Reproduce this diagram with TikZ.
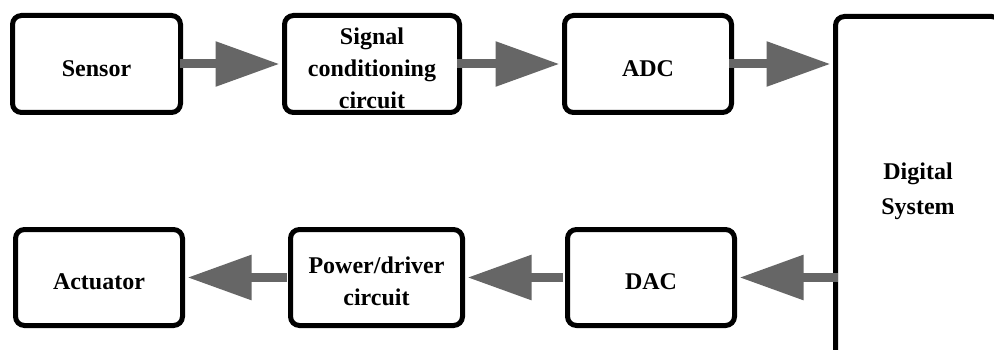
\documentclass[tikz,border=0pt]{standalone}
\usepackage{fontspec}
\setmainfont{Liberation Serif}
\usetikzlibrary{arrows.meta}
\definecolor{flowgray}{RGB}{102,102,102}
% a tall strut in the first line sets the text a little below the middle
\newcommand{\lowstrut}{\rule{0pt}{25pt}}
\tikzset{
  block/.style={draw=black, line width=5pt, rounded corners=9pt, fill=white,
    align=center, inner sep=0pt,
    font=\fontsize{24}{32}\selectfont\bfseries},
  flow/.style={draw=flowgray, line width=9pt,
    -{Triangle[length=64pt, width=43pt]}, flowgray}
}
\begin{document}
\begin{tikzpicture}[x=1pt, y=-1pt]
  \useasboundingbox (0,0) rectangle (994,350);
  % upper chain
  \node[block, minimum width=168pt, minimum height=97pt] (sensor) at (96.5,64) {\lowstrut Sensor};
  \node[block, minimum width=175pt, minimum height=97pt] (cond) at (372,64) {\lowstrut Signal\\conditioning\\circuit};
  \node[block, minimum width=167pt, minimum height=97pt] (adc) at (648,64) {\lowstrut ADC};
  % digital system, running past the right and bottom edges
  \node[block, minimum width=165pt, minimum height=349pt,
        font=\fontsize{24}{35}\selectfont\bfseries] (dig) at (918,191) {Digital\\System};
  % lower chain
  \node[block, minimum width=167pt, minimum height=96pt] (act) at (99,277.5) {\lowstrut Actuator};
  \node[block, minimum width=172pt, minimum height=96pt] (pwr) at (376.5,277.5) {\lowstrut Power/driver\\circuit};
  \node[block, minimum width=167pt, minimum height=96pt] (dac) at (651,277.5) {\lowstrut DAC};
  % signal flow
  \draw[flow] ([xshift=-3.5pt]sensor.east) -- ([xshift=-2.5pt]cond.west);
  \draw[flow] ([xshift=-5pt]cond.east) -- ([xshift=-2.5pt]adc.west);
  \draw[flow] ([xshift=-5pt]adc.east) -- ([xshift=-2.5pt]dig.west |- adc.west);
  \draw[flow] ([xshift=4.5pt]dig.west |- dac.east) -- ([xshift=2.5pt]dac.east);
  \draw[flow] ([xshift=-2pt]dac.west) -- ([xshift=2.5pt]pwr.east);
  \draw[flow] ([xshift=-1pt]pwr.west) -- ([xshift=2.5pt]act.east);
\end{tikzpicture}
\end{document}
